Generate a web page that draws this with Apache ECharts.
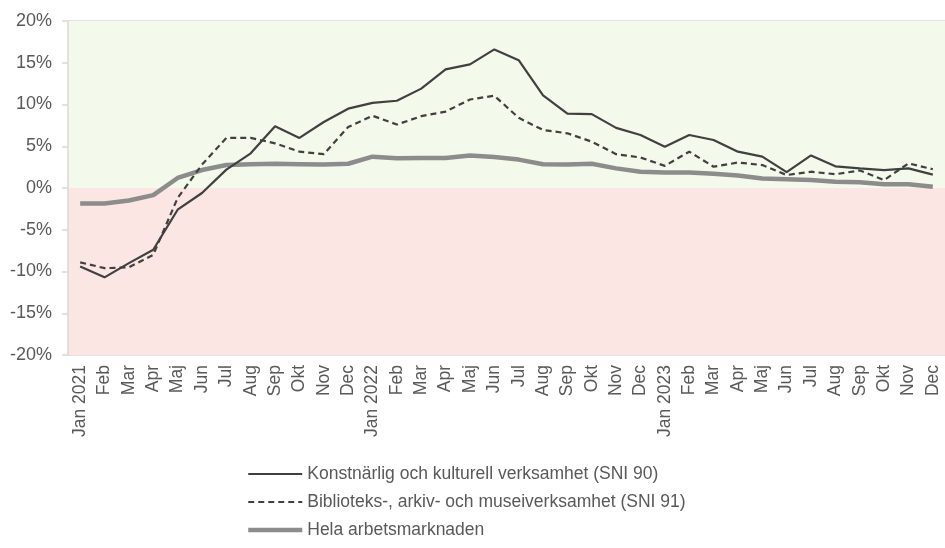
<!DOCTYPE html>
<html>
<head>
<meta charset="utf-8">
<script src="https://cdn.jsdelivr.net/npm/echarts@6/dist/echarts.min.js"></script>
<style>
  html, body { margin: 0; padding: 0; background: #fff; }
  #chart { width: 945px; height: 548px; }
</style>
</head>
<body>
<div id="chart"></div>
<script>
// månader jan 2021 - dec 2023
const months = [
  "Jan 2021", "Feb", "Mar", "Apr", "Maj", "Jun", "Jul", "Aug", "Sep", "Okt", "Nov", "Dec",
  "Jan 2022", "Feb", "Mar", "Apr", "Maj", "Jun", "Jul", "Aug", "Sep", "Okt", "Nov", "Dec",
  "Jan 2023", "Feb", "Mar", "Apr", "Maj", "Jun", "Jul", "Aug", "Sep", "Okt", "Nov", "Dec"
];
const seriesNames = [
  "Konstnärlig och kulturell verksamhet (SNI 90)",
  "Biblioteks-, arkiv- och museiverksamhet (SNI 91)",
  "Hela arbetsmarknaden"
];
const sni90 = [
  -9.4, -10.7, -9.0, -7.4, -2.6, -0.6, 2.2, 4.15, 7.4, 6.0, 7.9, 9.5,
  10.2, 10.45, 11.9, 14.2, 14.8, 16.6, 15.3, 11.1, 8.9, 8.85, 7.2, 6.35,
  4.95, 6.35, 5.75, 4.35, 3.75, 1.9, 3.9, 2.6, 2.35, 2.15, 2.35, 1.6
];
const sni91 = [
  -8.9, -9.6, -9.5, -8.0, -1.2, 2.8, 6.0, 6.0, 5.35, 4.35, 4.05, 7.3,
  8.65, 7.6, 8.6, 9.15, 10.6, 11.05, 8.4, 6.95, 6.55, 5.55, 4.05, 3.65,
  2.65, 4.35, 2.55, 3.05, 2.75, 1.55, 1.95, 1.65, 2.1, 0.95, 2.95, 2.25
];
const hela = [
  -1.85, -1.85, -1.5, -0.85, 1.2, 2.15, 2.75, 2.85, 2.9, 2.85, 2.8, 2.9,
  3.75, 3.55, 3.6, 3.6, 3.9, 3.7, 3.4, 2.85, 2.8, 2.9, 2.35, 1.95,
  1.85, 1.85, 1.7, 1.5, 1.15, 1.05, 0.95, 0.75, 0.7, 0.45, 0.45, 0.15
];
const yTicks = [-20, 20, 5]; // min, max, steg

const chart = echarts.init(document.getElementById("chart"));
const textColor = "#595959";
const font = "Liberation Sans";

chart.setOption({
  animation: false,
  textStyle: { fontFamily: font },
  grid: { left: 68, top: 21, width: 886, height: 334, containLabel: false },
  legend: {
    orient: "vertical",
    left: 241,
    top: 460,
    itemWidth: 54,
    itemHeight: 16,
    itemGap: 10,
    itemStyle: { opacity: 0 },
    textStyle: { color: textColor, fontSize: 17.5, fontFamily: font, padding: [0, 0, 0, 0] },
    data: [
      { name: seriesNames[0], lineStyle: { width: 2.2 } },
      { name: seriesNames[1], lineStyle: { width: 2.2 } },
      { name: seriesNames[2], lineStyle: { width: 4.5 } }
    ]
  },
  xAxis: {
    type: "category",
    data: months,
    boundaryGap: true,
    axisLine: { show: false },
    axisTick: { show: false },
    axisLabel: {
      rotate: 90,
      interval: 0,
      color: textColor,
      fontSize: 17.5,
      fontFamily: font,
      margin: 10
    }
  },
  yAxis: {
    type: "value",
    min: yTicks[0],
    max: yTicks[1],
    interval: yTicks[2],
    z: 1,
    axisLine: { show: true, lineStyle: { color: "#d9d9d9", width: 1.5 } },
    axisTick: { show: true, length: 6, lineStyle: { color: "#d9d9d9", width: 1.5 } },
    splitLine: { show: true, lineStyle: { color: "#d9d9d9", width: 1.5 } },
    axisLabel: {
      color: textColor,
      fontSize: 18,
      fontFamily: font,
      margin: 16,
      formatter: "{value}%"
    }
  },
  series: [
    {
      // bakgrund: grönt över noll, rött under
      type: "line",
      data: [],
      z: 0,
      silent: true,
      markArea: {
        silent: true,
        data: [
          [{ yAxis: 0, itemStyle: { color: "#f3f9eb" } }, { yAxis: yTicks[1] }],
          [{ yAxis: yTicks[0], itemStyle: { color: "#fbe6e4" } }, { yAxis: 0 }]
        ]
      }
    },
    {
      name: seriesNames[0],
      type: "line",
      data: sni90,
      z: 4,
      symbol: "none",
      color: "#404040",
      lineStyle: { color: "#404040", width: 2.2 }
    },
    {
      name: seriesNames[1],
      type: "line",
      data: sni91,
      z: 4,
      symbol: "none",
      color: "#404040",
      lineStyle: { color: "#404040", width: 2.2, type: [6, 4] }
    },
    {
      name: seriesNames[2],
      type: "line",
      data: hela,
      z: 3,
      symbol: "none",
      color: "#8c8c8c",
      lineStyle: { color: "#8c8c8c", width: 4.5 }
    }
  ]
});
</script>
</body>
</html>
